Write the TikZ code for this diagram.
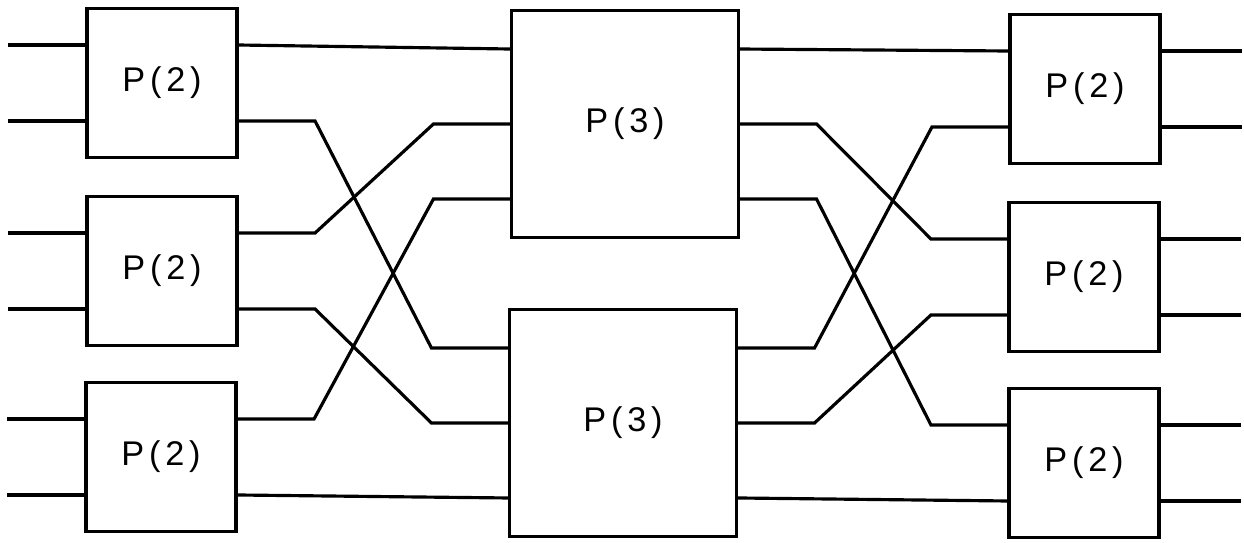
\documentclass[tikz,border=0pt]{standalone}
\usepackage{fontspec}
\newfontfamily\permfont[LetterSpace=14]{Liberation Sans}
\usetikzlibrary{calc}

\begin{document}
\begin{tikzpicture}[x=0.02cm, y=-0.02cm,
  wire/.style={line width=1.8pt, line join=miter},
  perm/.style={rectangle, draw, line width=1.8pt, minimum width=3cm,
               minimum height=2.98cm, inner sep=0pt, align=center,
               font=\permfont\fontsize{19.5}{21}\selectfont},
  bigperm/.style={perm, minimum width=4.54cm, minimum height=4.54cm}
]
  \useasboundingbox (0,0) rectangle (1244,543);

  % first column
  \node[perm] (a1) at (162,83)  {P(2)};
  \node[perm] (a2) at (162,271) {P(2)};
  \node[perm] (a3) at (161,457) {P(2)};
  % middle column
  \node[bigperm] (b1) at (625,124) {P(3)};
  \node[bigperm] (b2) at (623,423) {P(3)};
  % last column
  \node[perm] (c1) at (1085,89)  {P(2)};
  \node[perm] (c2) at (1084,277) {P(2)};
  \node[perm] (c3) at (1084,463) {P(2)};

  % ports of the 2-boxes
  \foreach \n in {a1,a2,a3,c1,c2,c3} {
    \coordinate (\n-i1) at ($(\n.west)+(0,0.76cm)$);
    \coordinate (\n-i2) at ($(\n.west)+(0,-0.76cm)$);
    \coordinate (\n-o1) at ($(\n.east)+(0,0.76cm)$);
    \coordinate (\n-o2) at ($(\n.east)+(0,-0.76cm)$);
  }
  % ports of the 3-boxes
  \foreach \n in {b1,b2} {
    \coordinate (\n-i1) at ($(\n.west)+(0,1.5cm)$);
    \coordinate (\n-i2) at (\n.west);
    \coordinate (\n-i3) at ($(\n.west)+(0,-1.5cm)$);
    \coordinate (\n-o1) at ($(\n.east)+(0,1.5cm)$);
    \coordinate (\n-o2) at (\n.east);
    \coordinate (\n-o3) at ($(\n.east)+(0,-1.5cm)$);
  }

  % outer inputs and outputs
  \foreach \n in {a1,a2,a3} {
    \coordinate (\n-x1) at ($(\n-i1)+(-1.54cm,0)$);
    \coordinate (\n-x2) at ($(\n-i2)+(-1.54cm,0)$);
    \draw[wire] (\n-i1) -- (\n-x1);
    \draw[wire] (\n-i2) -- (\n-x2);
  }
  \foreach \n in {c1,c2,c3} {
    \coordinate (\n-y1) at ($(\n-o1)+(1.6cm,0)$);
    \coordinate (\n-y2) at ($(\n-o2)+(1.6cm,0)$);
    \draw[wire] (\n-o1) -- (\n-y1);
    \draw[wire] (\n-o2) -- (\n-y2);
  }

  % straight links
  \draw[wire] (a1-o1) -- (b1-i1);
  \draw[wire] (a3-o2) -- (b2-i3);
  \draw[wire] (b1-o1) -- (c1-i1);
  \draw[wire] (b2-o3) -- (c3-i2);

  % shuffles
  \foreach \s/\t in {a1-o2/b2-i1, a2-o1/b1-i2, a2-o2/b2-i2, a3-o1/b1-i3,
                     b1-o2/c2-i1, b1-o3/c3-i1, b2-o1/c1-i2, b2-o2/c2-i2}
    \draw[wire] (\s) -- ++(1.53cm,0) -- ($(\t)+(-1.53cm,0)$) -- (\t);
\end{tikzpicture}
\end{document}
